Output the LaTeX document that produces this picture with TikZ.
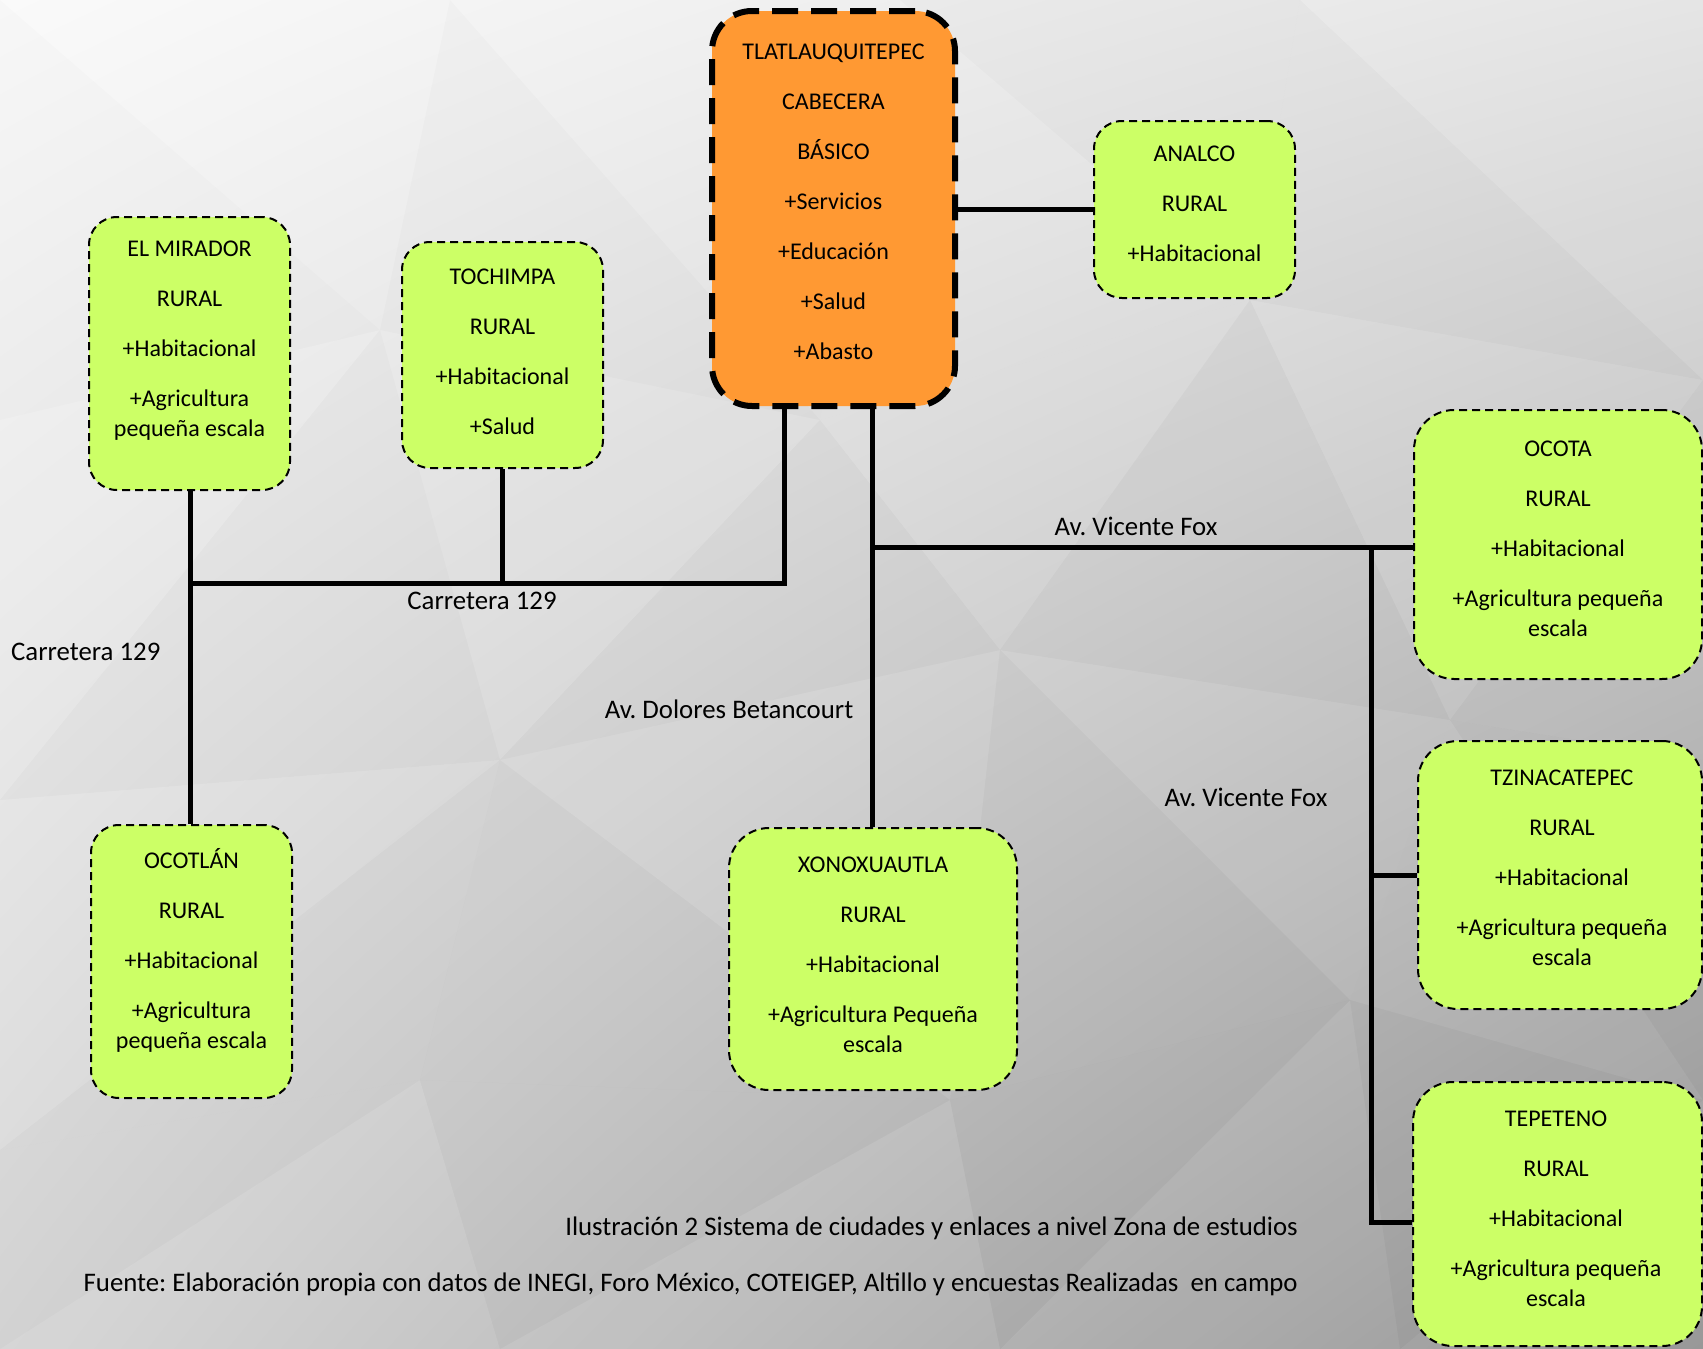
\documentclass[tikz,border=0pt]{standalone}
\usepackage{fontspec}
\setmainfont{Carlito}
\frenchspacing
\usetikzlibrary{shadings}
\definecolor{boxgreen}{RGB}{204,255,102}
\definecolor{boxorange}{RGB}{255,153,51}
\definecolor{bgA}{RGB}{250,250,250}
\definecolor{bgB}{RGB}{228,228,228}
\definecolor{bgC}{RGB}{214,214,214}
\definecolor{bgD}{RGB}{150,150,150}
\begin{document}
\begin{tikzpicture}[x=1pt,y=-1pt,
  txt/.style={font=\fontsize{24}{30}\selectfont, align=center, inner sep=0pt, text=black},
  gbox/.style={draw=black, fill=boxgreen, line width=2pt, dash pattern=on 8pt off 5pt, rounded corners=28pt, inner sep=0pt},
  gboxw/.style={gbox, rounded corners=40pt},
  obox/.style={draw=black, fill=boxorange, line width=6pt, dash pattern=on 26pt off 13pt, rounded corners=40pt, inner sep=0pt},
  road/.style={draw=black, line width=5pt},
  lbl/.style={font=\fontsize{26.8}{30}\selectfont, inner sep=0pt, text=black},
  lt/.style={fill=white, opacity=#1},
  dk/.style={fill=black, opacity=#1}]
\useasboundingbox (0,0) rectangle (1703,1349);
\clip (0,0) rectangle (1703,1349);
% background
\shade[upper left=bgA, upper right=bgB, lower left=bgC, lower right=bgD] (0,0) rectangle (1703,1349);
\coordinate (A0) at (0,0); \coordinate (A1) at (450,0); \coordinate (A2) at (900,0); \coordinate (A3) at (1300,0); \coordinate (A4) at (1703,0);
\coordinate (B0) at (0,420); \coordinate (B1) at (380,330); \coordinate (B2) at (820,420); \coordinate (B3) at (1250,300); \coordinate (B4) at (1703,380);
\coordinate (C0) at (0,800); \coordinate (C1) at (500,760); \coordinate (C2) at (1000,650); \coordinate (C3) at (1450,720); \coordinate (C4) at (1703,760);
\coordinate (D0) at (0,1150); \coordinate (D1) at (420,1080); \coordinate (D2) at (950,1100); \coordinate (D3) at (1350,1000); \coordinate (D4) at (1703,1100);
\coordinate (E0) at (0,1349); \coordinate (E1) at (500,1349); \coordinate (E2) at (1000,1349); \coordinate (E3) at (1400,1349); \coordinate (E4) at (1703,1349);
\fill[lt=.04] (A0)--(A1)--(B1)--cycle;   \fill[dk=.012] (A0)--(B1)--(B0)--cycle;
\fill[lt=.025] (A1)--(A2)--(B2)--cycle;   \fill[dk=.015] (A1)--(B2)--(B1)--cycle;
\fill[dk=.015] (A2)--(A3)--(B3)--cycle;   \fill[lt=.04] (A2)--(B3)--(B2)--cycle;
\fill[lt=.05] (A3)--(A4)--(B4)--cycle;   \fill[dk=.015] (A3)--(B4)--(B3)--cycle;
\fill[lt=.05] (B0)--(B1)--(C0)--cycle;   \fill[dk=.015] (B1)--(C1)--(C0)--cycle;
\fill[lt=.03] (B1)--(B2)--(C1)--cycle;   \fill[dk=.02] (B2)--(C2)--(C1)--cycle;
\fill[lt=.04] (B2)--(B3)--(C2)--cycle;   \fill[dk=.025] (B3)--(C3)--(C2)--cycle;
\fill[lt=.04] (B3)--(B4)--(C3)--cycle;   \fill[dk=.015] (B4)--(C4)--(C3)--cycle;
\fill[lt=.05] (C0)--(C1)--(D0)--cycle;   \fill[dk=.015] (C1)--(D1)--(D0)--cycle;
\fill[lt=.025] (C1)--(C2)--(D2)--cycle;   \fill[dk=.025] (C1)--(D2)--(D1)--cycle;
\fill[lt=.03] (C2)--(C3)--(D3)--cycle;   \fill[dk=.025] (C2)--(D3)--(D2)--cycle;
\fill[dk=.025] (C3)--(C4)--(D4)--cycle;   \fill[lt=.025] (C3)--(D4)--(D3)--cycle;
\fill[dk=.015] (D0)--(D1)--(E0)--cycle;   \fill[lt=.025] (D1)--(E1)--(E0)--cycle;
\fill[dk=.025] (D1)--(D2)--(E1)--cycle;   \fill[lt=.03] (D2)--(E2)--(E1)--cycle;
\fill[dk=.03] (D2)--(D3)--(E2)--cycle;   \fill[lt=.025] (D3)--(E3)--(E2)--cycle;
\fill[dk=.025] (D3)--(D4)--(E3)--cycle;   \fill[lt=.025] (D4)--(E4)--(E3)--cycle;
% boxes
\node[obox, minimum width=243, minimum height=395] (tla) at (833.5,208.5) {};
\node[txt] (tlat) at (833.5,201.5) {TLATLAUQUITEPEC\\[20pt]CABECERA\\[20pt]BÁSICO\\[20pt]+Servicios\\[20pt]+Educación\\[20pt]+Salud\\[20pt]+Abasto};
\node[gbox, minimum width=201, minimum height=177] (ana) at (1194.5,209.5) {};
\node[txt] (anat) at (1194.5,203.5) {ANALCO\\[20pt]RURAL\\[20pt]+Habitacional};
\node[gbox, minimum width=201, minimum height=273] (mir) at (189.5,353.5) {};
\node[txt] (mirt) at (189.5,341) {EL MIRADOR\\[20pt]RURAL\\[20pt]+Habitacional\\[20pt]+Agricultura\\pequeña escala};
\node[gbox, minimum width=201, minimum height=226] (toc) at (502.5,355) {};
\node[txt] (toct) at (502.5,351.5) {TOCHIMPA\\[20pt]RURAL\\[20pt]+Habitacional\\[20pt]+Salud};
\node[gbox, minimum width=201, minimum height=273] (oco) at (191.5,961.5) {};
\node[txt] (ocot) at (191.5,950.5) {OCOTLÁN\\[20pt]RURAL\\[20pt]+Habitacional\\[20pt]+Agricultura\\pequeña escala};
\node[gboxw, minimum width=288, minimum height=262] (xon) at (873,959) {};
\node[txt] (xont) at (873,955) {XONOXUAUTLA\\[20pt]RURAL\\[20pt]+Habitacional\\[20pt]+Agricultura Pequeña\\escala};
\node[gboxw, minimum width=288, minimum height=269] (ocota) at (1558,544.5) {};
\node[txt] (ocotat) at (1558,539) {OCOTA\\[20pt]RURAL\\[20pt]+Habitacional\\[20pt]+Agricultura pequeña\\escala};
\node[gboxw, minimum width=284, minimum height=268] (tzi) at (1560,875) {};
\node[txt] (tzit) at (1562,868) {TZINACATEPEC\\[20pt]RURAL\\[20pt]+Habitacional\\[20pt]+Agricultura pequeña\\escala};
\node[gboxw, minimum width=289, minimum height=264] (tep) at (1557.5,1214) {};
\node[txt] (tept) at (1556,1209) {TEPETENO\\[20pt]RURAL\\[20pt]+Habitacional\\[20pt]+Agricultura pequeña\\escala};
% junctions
\coordinate (j1) at (784,583);
\coordinate (j2) at (190,583);
\coordinate (j3) at (872,547);
\coordinate (j4) at (1371,547);
\coordinate (j5) at (1371,1222);
% connectors
\draw[road] (tla.east |- ana.west) -- (ana.west);
\draw[road] (tla.south -| j1) -- (j1) -- (j2);
\draw[road] (toc.south) -- (toc.south |- j1);
\draw[road] (mir.south -| j2) -- (oco.north -| j2);
\draw[road] (tla.south -| j3) -- (xon.north -| j3);
\draw[road] (j3) -- (j3 -| ocota.west);
\draw[road, line join=miter] (j4) -- (j5) -- (j5 -| tep.west);
\draw[road] (tzi.west -| j4) -- (tzi.west);
% labels
\node[lbl] (l1) at (1136,526) {Av. Vicente Fox};
\node[lbl] (l2) at (482,601) {Carretera 129};
\node[lbl, anchor=west] (l3) at (11,652) {Carretera 129};
\node[lbl] (l4) at (729,709) {Av. Dolores Betancourt};
\node[lbl] (l5) at (1246,797) {Av. Vicente Fox};
\node[lbl, anchor=east] (cap1) at (1298,1228) {Ilustración 2 Sistema de ciudades y enlaces a nivel Zona de estudios};
\node[lbl, anchor=east] (cap2) at (1298,1284) {Fuente: Elaboración propia con datos de INEGI, Foro México, COTEIGEP, Altillo y encuestas Realizadas\ \ en campo};
\end{tikzpicture}
\end{document}
